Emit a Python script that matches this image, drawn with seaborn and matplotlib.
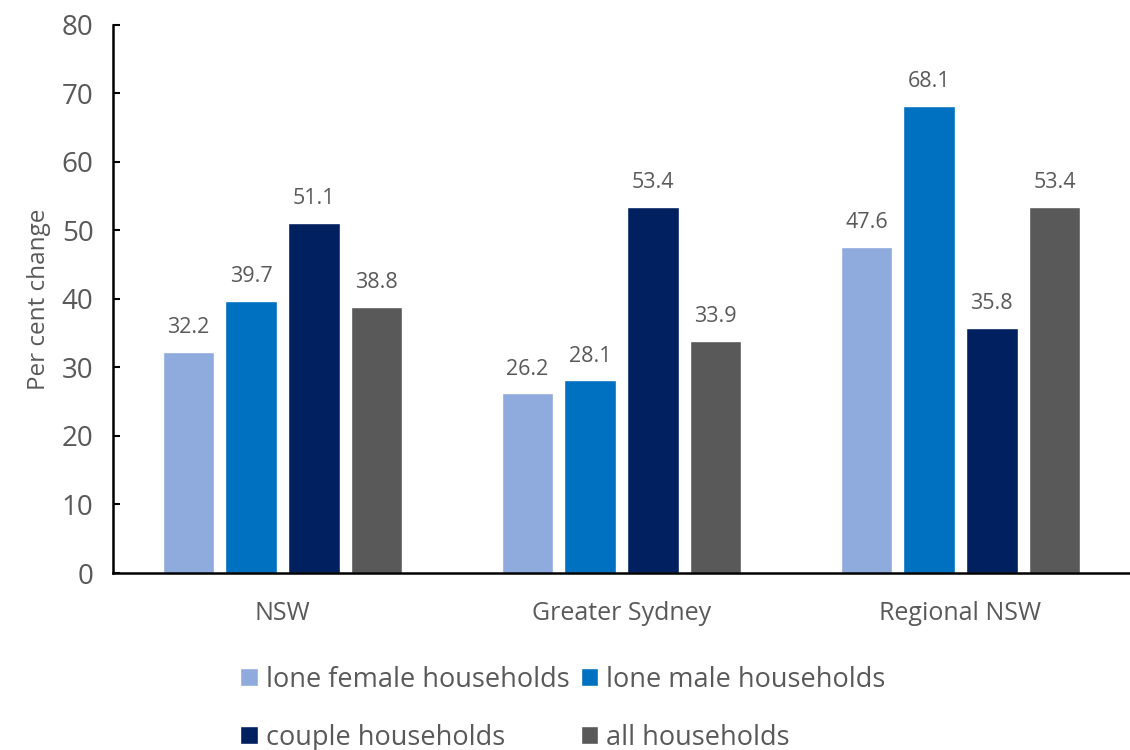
import matplotlib
matplotlib.use("Agg")
import matplotlib.pyplot as plt
import seaborn as sns
import pandas as pd

# data
regions = ["NSW", "Greater Sydney", "Regional NSW"]
series = ["lone female households", "lone male households", "couple households", "all households"]
lone_female = [32.2, 26.2, 47.6]
lone_male = [39.7, 28.1, 68.1]
couple = [51.1, 53.4, 35.8]
all_hh = [38.8, 33.9, 53.4]
colors = ["#8FAADC", "#0070C0", "#002060", "#595959"]

rows = []
for name, vals in zip(series, [lone_female, lone_male, couple, all_hh]):
    for reg, v in zip(regions, vals):
        rows.append({"region": reg, "series": name, "value": v})
df = pd.DataFrame(rows)

sns.set_style("white")
plt.rcParams["font.family"] = ["Open Sans", "DejaVu Sans"]
text_col = "#595959"

fig = plt.figure(figsize=(11.3, 7.5), dpi=100)
ax = fig.add_axes([0.1, 0.236, 0.9, 0.731])

sns.barplot(data=df, x="region", y="value", hue="series", hue_order=series,
            palette=colors, width=0.74, gap=0.18, saturation=1, ax=ax,
            legend=True, errorbar=None)

for cont in ax.containers:
    ax.bar_label(cont, fmt="%.1f", padding=10, fontsize=15.5, color=text_col)

ax.set_ylim(0, 80)
ax.set_yticks(range(0, 81, 10))
ax.set_xlim(-0.5, 2.5)
ax.set_xlabel("")
ax.set_ylabel("Per cent change", fontsize=17.5, color=text_col, labelpad=8)
ax.tick_params(axis="y", direction="in", length=5, width=1.5, colors="black",
               labelcolor=text_col, labelsize=20, pad=14, left=True)
ax.tick_params(axis="x", length=0, labelcolor=text_col, labelsize=18, pad=20)

sns.despine(ax=ax, top=True, right=True)
for s in ["left", "bottom"]:
    ax.spines[s].set_color("black")
    ax.spines[s].set_linewidth(1.8)

# legend fills row by row in the reference, so reorder for column-major layout
handles, labels = ax.get_legend_handles_labels()
order = [0, 2, 1, 3]
ax.get_legend().remove()
fig.legend([handles[i] for i in order], [labels[i] for i in order],
           loc="center left", bbox_to_anchor=(0.203, 0.055),
           ncol=2, frameon=False, fontsize=19.5, labelcolor=text_col,
           handlelength=0.65, handleheight=0.65, handletextpad=0.3,
           columnspacing=0.4, labelspacing=1.1, borderaxespad=0)

fig.savefig("out.png", dpi=100)
